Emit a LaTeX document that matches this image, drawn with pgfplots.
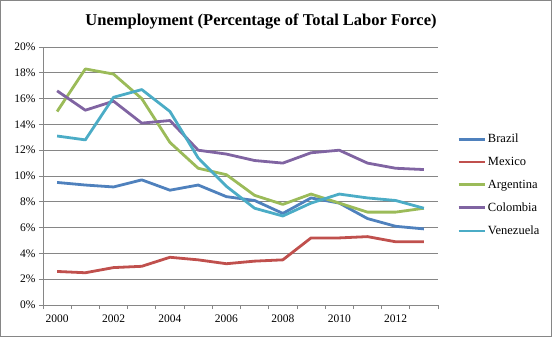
\documentclass[border=0pt]{standalone}
\usepackage{pgfplots}
\pgfplotsset{compat=1.18}
\usepackage{fontspec}
\setmainfont{Liberation Serif}
\definecolor{cBrazil}{HTML}{4F81BD}
\definecolor{cMexico}{HTML}{C0504D}
\definecolor{cArg}{HTML}{9BBB59}
\definecolor{cCol}{HTML}{8064A2}
\definecolor{cVen}{HTML}{4BACC6}
\definecolor{axgray}{HTML}{868686}
\begin{document}
\begin{tikzpicture}
\draw[axgray, line width=1bp] (0.5bp,0.5bp) rectangle (551.5bp,336.5bp);
\node[font=\bfseries\fontsize{16.5bp}{19bp}\selectfont] at (261bp,315bp) {Unemployment (Percentage of Total Labor Force)};
\begin{axis}[
  at={(43bp,32bp)}, anchor=south west,
  scale only axis, width=395bp, height=258bp,
  xmin=-0.5, xmax=13.5, ymin=0, ymax=20,
  axis lines*=left,
  axis line style={axgray, line width=0.75bp},
  xtick={-0.5,0.5,...,13.5}, xticklabels={},
  extra x ticks={0,2,4,6,8,10,12},
  extra x tick labels={2000,2002,2004,2006,2008,2010,2012},
  extra x tick style={tick style={draw=none}, grid=none},
  ytick={0,2,...,20},
  yticklabel={\pgfmathprintnumber{\tick}\%},
  /pgf/number format/assume math mode=true,
  tick align=outside, major tick length=4bp,
  tick style={axgray, line width=0.75bp},
  ymajorgrids, grid style={axgray, line width=0.75bp},
  ticklabel style={font=\fontsize{11.5bp}{13bp}\selectfont},
  xticklabel style={yshift=-2bp},
  legend style={at={(1.048,0.465)}, anchor=west, draw=none, fill=none, inner sep=0pt,
    row sep=9bp, font=\fontsize{12.5bp}{14.5bp}\selectfont},
  legend cell align=left,
  legend image code/.code={\draw[#1] (0bp,0bp) -- (26bp,0bp);},
  every axis plot/.append style={line width=2.8bp, line join=round},
]
\addplot[cBrazil] coordinates {(0,9.5)(1,9.3)(2,9.15)(3,9.7)(4,8.9)(5,9.3)(6,8.4)(7,8.1)(8,7.1)(9,8.3)(10,7.9)(11,6.7)(12,6.1)(13,5.9)};
\addlegendentry{Brazil}
\addplot[cMexico] coordinates {(0,2.6)(1,2.5)(2,2.9)(3,3.0)(4,3.7)(5,3.5)(6,3.2)(7,3.4)(8,3.5)(9,5.2)(10,5.2)(11,5.3)(12,4.9)(13,4.9)};
\addlegendentry{Mexico}
\addplot[cArg] coordinates {(0,15.0)(1,18.3)(2,17.9)(3,16.0)(4,12.6)(5,10.6)(6,10.1)(7,8.5)(8,7.8)(9,8.6)(10,7.9)(11,7.2)(12,7.2)(13,7.5)};
\addlegendentry{Argentina}
\addplot[cCol] coordinates {(0,16.6)(1,15.1)(2,15.8)(3,14.1)(4,14.3)(5,12.0)(6,11.7)(7,11.2)(8,11.0)(9,11.8)(10,12.0)(11,11.0)(12,10.6)(13,10.5)};
\addlegendentry{Colombia}
\addplot[cVen] coordinates {(0,13.1)(1,12.8)(2,16.1)(3,16.7)(4,15.0)(5,11.4)(6,9.2)(7,7.5)(8,6.9)(9,7.9)(10,8.6)(11,8.3)(12,8.1)(13,7.5)};
\addlegendentry{Venezuela}
\end{axis}
\end{tikzpicture}
\end{document}
